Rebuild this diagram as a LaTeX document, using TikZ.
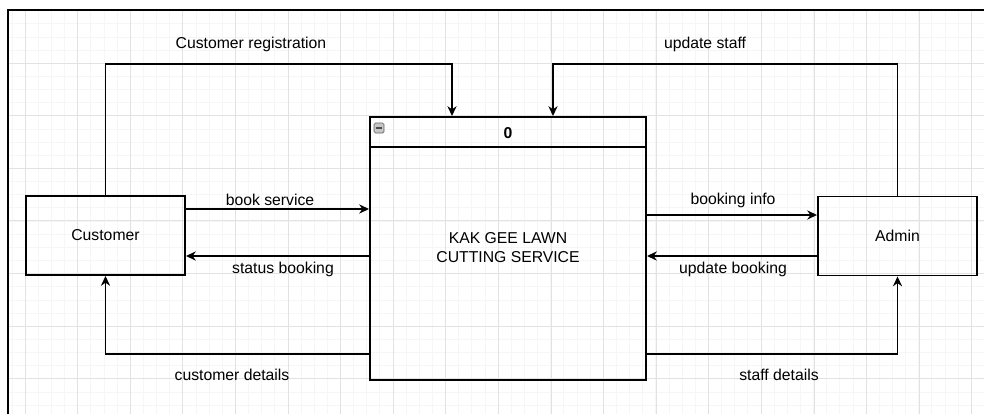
\documentclass[tikz,border=0pt]{standalone}
\usepackage{fontspec}
\setmainfont{Liberation Sans}
\usetikzlibrary{arrows.meta,positioning}
\definecolor{gridmajor}{RGB}{226,226,226}
\definecolor{gridminor}{RGB}{246,246,246}
\begin{document}
\begin{tikzpicture}[x=0.025cm,y=-0.025cm,
  font=\fontsize{11.2}{13.5}\selectfont,
  entity/.style={draw,line width=1.35pt,minimum width=3.975cm,minimum height=1.975cm,inner sep=0pt},
  procbox/.style={draw,line width=1.35pt,minimum width=6.9cm,minimum height=6.575cm,inner sep=0pt},
  flow/.style={line width=1.35pt,-{Stealth[length=7pt,width=6.5pt]}},
  flowlabel/.style={inner sep=1pt}
]
  \useasboundingbox (0,0) rectangle (984,414);
  % grid
  \foreach \gx in {11.85,24.99,...,984} \draw[gridminor,line width=0.4pt] (\gx,10) -- (\gx,414);
  \foreach \gy in {23.65,36.8,...,414} \draw[gridminor,line width=0.4pt] (8,\gy) -- (984,\gy);
  \foreach \gx in {25,77.6,...,984} \draw[gridmajor,line width=0.5pt] (\gx,10) -- (\gx,414);
  \foreach \gy in {63,115.6,...,414} \draw[gridmajor,line width=0.5pt] (8,\gy) -- (984,\gy);
  % frame
  \draw[line width=1.35pt] (8,414) -- (8,10) -- (984,10);

  % entities and process
  \node[entity] (cust) at (105.5,235.5) {Customer};
  \node[entity] (admin) at (897.5,236) {Admin};
  \node[procbox] (proc) at (508,248.5) {};
  \draw[line width=1.35pt] ([yshift=-0.775cm]proc.north west) -- ([yshift=-0.775cm]proc.north east);
  \node[font=\fontsize{11.2}{13.5}\selectfont\bfseries] (procid) at (508,133) {0};
  \node[align=center] (procname) at (508,248) {KAK GEE LAWN\\CUTTING SERVICE};
  \node[draw=gray!75!black,fill=gray!45,rounded corners=1pt,minimum size=0.25cm,inner sep=0pt] (collapse) at (379,128) {};
  \draw[line width=1pt,black!70] ([xshift=-2.2pt]collapse.center) -- ([xshift=2.2pt]collapse.center);

  % data flows
  \draw[flow] (cust.north) -- (cust.north |- 0,64) -| (proc.north -| 452,0);
  \draw[flow] (admin.north) -- (admin.north |- 0,64) -| (proc.north -| 553,0);
  \draw[flow] (cust.east |- 0,209) -- (proc.west |- 0,209);
  \draw[flow] (proc.west |- 0,256) -- (cust.east |- 0,256);
  \draw[flow] (proc.east |- 0,215) -- (admin.west |- 0,215);
  \draw[flow] (admin.west |- 0,256) -- (proc.east |- 0,256);
  \draw[flow] (proc.west |- 0,354) -| (cust.south);
  \draw[flow] (proc.east |- 0,354) -| (admin.south);

  % flow labels
  \node[flowlabel] (lreg) at (251,44) {Customer registration};
  \node[flowlabel] (lstaff) at (705,44) {update staff};
  \node[flowlabel] (lbook) at (270,200) {book service};
  \node[flowlabel] (lstatus) at (283,269) {status booking};
  \node[flowlabel] (linfo) at (733,200) {booking info};
  \node[flowlabel] (lupd) at (733,269) {update booking};
  \node[flowlabel] (lcdet) at (232,375) {customer details};
  \node[flowlabel] (lsdet) at (779,375) {staff details};
\end{tikzpicture}
\end{document}
